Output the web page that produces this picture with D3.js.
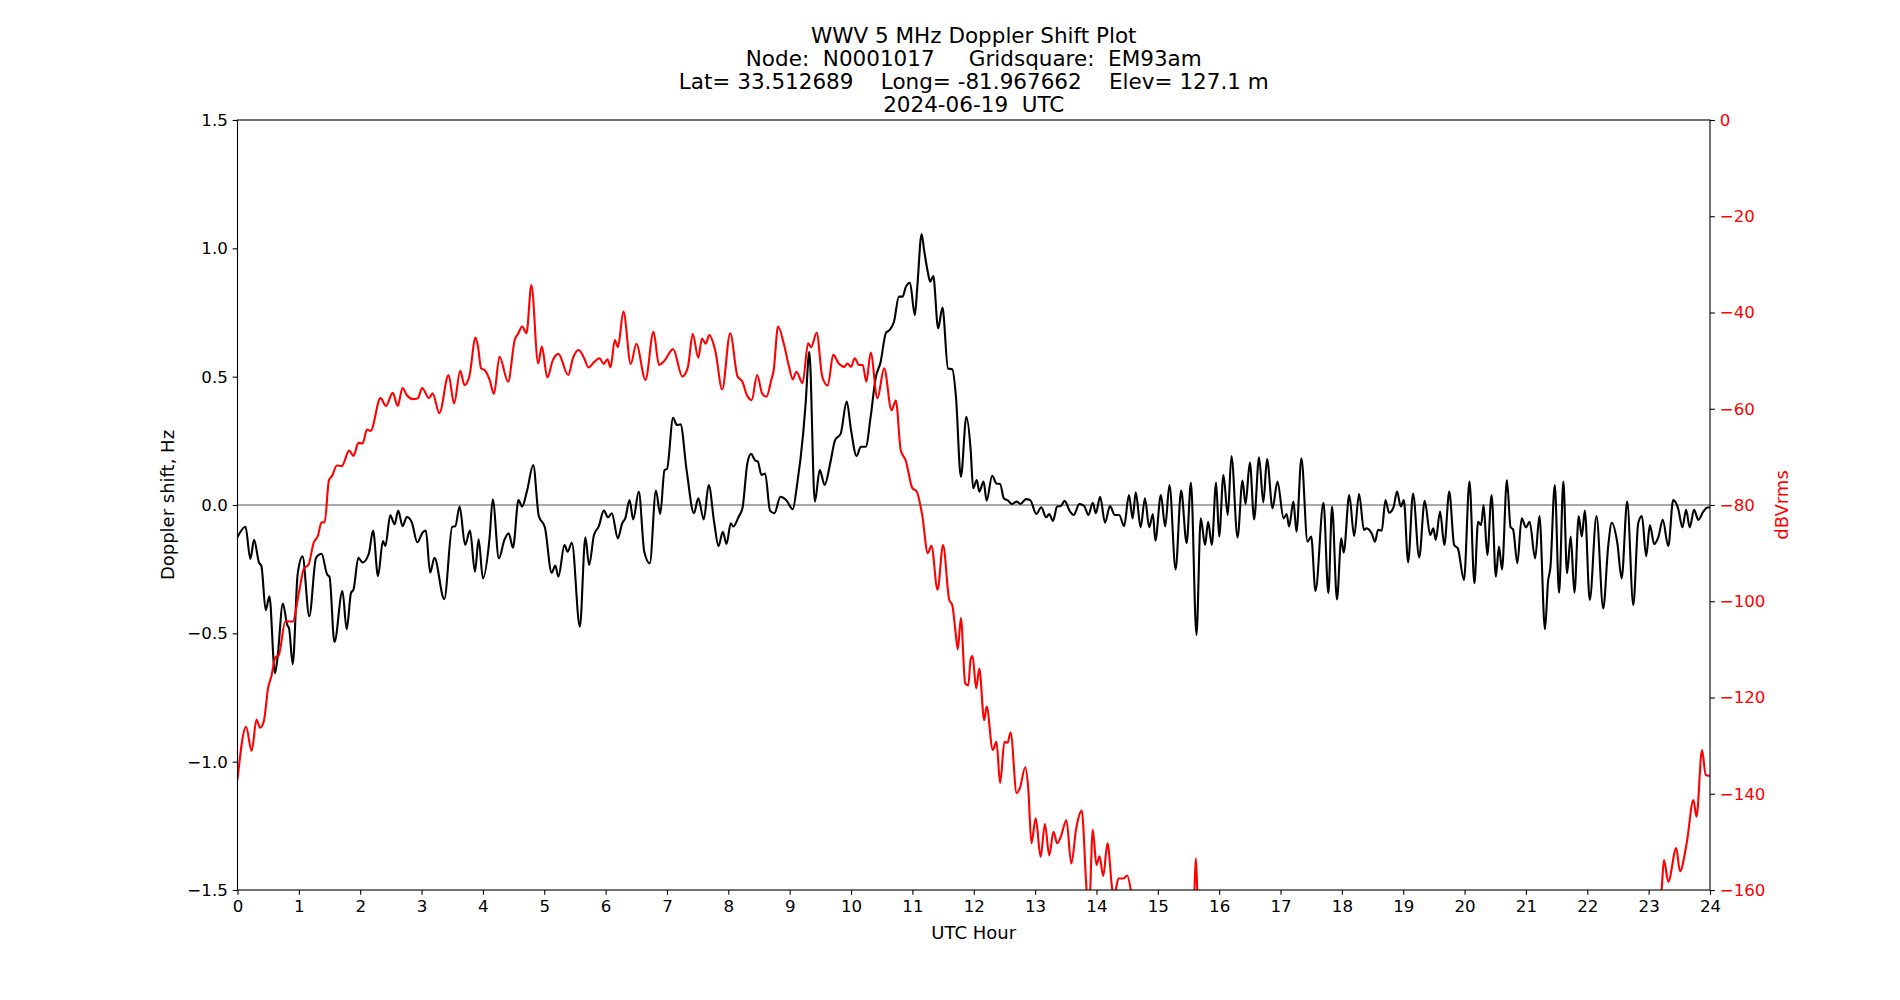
<!DOCTYPE html>
<html>
<head>
<meta charset="utf-8">
<script src="https://cdn.jsdelivr.net/npm/d3@7"></script>
<style>
  html, body { margin: 0; padding: 0; background: #fff; }
  svg { display: block; font-family: "DejaVu Sans", sans-serif; }
  text { white-space: pre; }
</style>
</head>
<body>
<svg id="chart" width="1900" height="1000"></svg>
<script>
// ---------- data ----------
const titleLines = [
  "WWV 5 MHz Doppler Shift Plot",
  "Node:  N0001017     Gridsquare:  EM93am",
  "Lat= 33.512689    Long= -81.967662    Elev= 127.1 m",
  "2024-06-19  UTC"
];
const xLabel = "UTC Hour";
const yLeftLabel = "Doppler shift, Hz";
const yRightLabel = "dBVrms";

const hourTicks = d3.range(0, 25, 1);
const dopplerTicks = [-1.5, -1.0, -0.5, 0.0, 0.5, 1.0, 1.5];
const dbTicks = [-160, -140, -120, -100, -80, -60, -40, -20, 0];

// Doppler shift (black) – hours and Hz
const dopplerHours = [
 0.00,0.13,0.21,0.27,0.35,0.39,0.46,0.52,0.61,0.65,0.74,0.81,0.84,0.90,0.98,1.06,1.17,1.28,1.37,1.46,1.50,1.58,1.71,1.78,1.85,1.89,1.97,2.04,2.14,2.21,2.29,2.37,2.41,2.49,2.56,2.62,2.69,2.76,2.84,2.93,3.02,3.07,3.14,3.21,3.37,3.50,3.55,3.62,3.71,3.79,3.87,3.93,
 4.00,4.11,4.16,4.26,4.35,4.42,4.49,4.58,4.64,4.72,4.82,4.91,5.01,5.12,5.18,5.23,5.33,5.38,5.45,5.58,5.67,5.73,5.81,5.89,5.97,6.04,6.10,6.20,6.27,6.32,6.39,6.45,6.54,6.63,6.72,6.82,6.89,6.96,7.00,7.10,7.16,7.22,7.32,7.44,7.51,7.60,7.68,7.77,7.84,7.91,7.97,
 8.04,8.08,8.17,8.23,8.31,8.37,8.44,8.48,8.54,8.60,8.68,8.75,8.85,8.95,9.05,9.12,9.22,9.26,9.32,9.41,9.49,9.57,9.66,9.74,9.83,9.93,10.00,10.09,10.16,10.24,10.32,10.40,10.48,10.57,10.63,10.70,10.78,10.84,10.89,10.96,11.04,11.08,11.15,11.19,11.25,11.29,11.34,11.42,11.49,11.58,11.65,11.71,11.79,11.88,11.95,
 11.99,12.05,12.09,12.16,12.21,12.30,12.37,12.43,12.49,12.56,12.62,12.70,12.76,12.85,12.92,13.02,13.10,13.18,13.23,13.29,13.36,13.42,13.48,13.57,13.63,13.72,13.80,13.87,13.94,13.99,14.06,14.14,14.22,14.30,14.37,14.45,14.53,14.59,14.64,14.72,14.79,14.86,14.92,14.96,15.05,15.12,15.19,15.29,15.38,15.47,15.54,15.63,15.70,15.77,15.82,15.88,15.95,
 16.00,16.07,16.14,16.20,16.30,16.38,16.43,16.50,16.57,16.65,16.72,16.78,16.87,16.95,17.05,17.10,17.14,17.21,17.26,17.34,17.44,17.50,17.57,17.70,17.78,17.84,17.92,17.99,18.03,18.12,18.20,18.28,18.36,18.40,18.49,18.54,18.59,18.65,18.71,18.77,18.84,18.90,18.96,19.01,19.08,19.16,19.26,19.35,19.44,19.49,19.53,19.60,19.67,19.75,19.83,19.89,19.99,
 20.08,20.16,20.22,20.27,20.31,20.37,20.44,20.51,20.56,20.61,20.69,20.75,20.79,20.86,20.93,21.00,21.06,21.15,21.22,21.31,21.36,21.40,21.47,21.54,21.61,21.67,21.73,21.79,21.86,21.91,21.96,22.04,22.15,22.26,22.34,22.40,22.49,22.56,22.65,22.75,22.83,22.89,22.96,23.02,23.09,23.16,23.23,23.32,23.40,23.48,23.55,23.61,23.67,23.74,23.81,23.89,23.96,24.00
];
const dopplerHz = [
 -0.125,-0.085,-0.21,-0.136,-0.224,-0.238,-0.41,-0.356,-0.655,-0.60,-0.384,-0.467,-0.48,-0.62,-0.27,-0.20,-0.433,-0.206,-0.19,-0.27,-0.28,-0.534,-0.335,-0.484,-0.342,-0.33,-0.206,-0.224,-0.19,-0.10,-0.277,-0.14,-0.16,-0.04,-0.075,-0.022,-0.082,-0.047,-0.067,-0.145,-0.106,-0.10,-0.263,-0.206,-0.367,-0.085,-0.083,-0.006,-0.155,-0.10,-0.26,-0.134,
 -0.286,-0.123,0.022,-0.208,-0.136,-0.11,-0.166,0.019,-0.006,0.056,0.156,-0.042,-0.087,-0.264,-0.236,-0.279,-0.156,-0.182,-0.147,-0.474,-0.126,-0.234,-0.117,-0.082,-0.022,-0.048,-0.032,-0.13,-0.071,-0.052,0.019,-0.056,0.052,-0.182,-0.227,0.056,-0.035,0.136,0.14,0.34,0.312,0.314,0.136,-0.032,0.026,-0.056,0.078,-0.069,-0.16,-0.104,-0.152,
 -0.071,-0.084,-0.045,-0.013,0.162,0.199,0.173,0.17,0.117,0.123,-0.022,-0.032,0.032,0.017,-0.017,0.078,0.279,0.396,0.597,0.013,0.136,0.078,0.162,0.253,0.277,0.403,0.292,0.191,0.227,0.227,0.344,0.494,0.555,0.671,0.682,0.714,0.812,0.812,0.848,0.866,0.74,0.85,1.056,0.994,0.909,0.87,0.892,0.688,0.769,0.532,0.529,0.422,0.11,0.344,0.214,
 0.065,0.097,0.052,0.091,0.017,0.114,0.084,0.082,0.026,0.017,0.004,0.013,0.004,0.023,0.019,-0.035,-0.009,-0.048,-0.035,-0.062,-0.006,-0.004,0.016,-0.026,-0.039,0.004,-0.004,-0.039,0.009,-0.032,0.032,-0.069,-0.004,-0.039,-0.039,-0.082,0.039,-0.052,0.049,-0.087,0.026,-0.087,-0.035,-0.139,0.039,-0.084,0.078,-0.251,0.056,-0.149,0.087,-0.506,-0.052,-0.156,-0.065,-0.156,0.087,
 -0.123,0.117,-0.039,0.191,-0.126,0.095,0.004,0.165,-0.056,0.186,0.01,0.179,-0.013,0.091,-0.052,-0.035,-0.084,0.013,-0.104,0.182,-0.143,-0.123,-0.335,0.009,-0.344,-0.006,-0.368,-0.13,-0.186,0.039,-0.121,0.043,-0.097,-0.091,-0.113,-0.143,-0.097,-0.10,0.019,-0.03,-0.01,0.052,-0.006,0.019,-0.223,0.045,-0.204,0.016,-0.117,-0.091,-0.136,-0.026,-0.156,0.052,-0.156,-0.169,-0.292,
 0.091,-0.305,-0.065,-0.078,0.0,-0.195,0.039,-0.279,-0.162,-0.251,0.097,-0.087,-0.095,-0.227,-0.052,-0.087,-0.065,-0.208,-0.043,-0.484,-0.299,-0.24,0.078,-0.342,0.091,-0.266,-0.123,-0.342,-0.043,-0.123,-0.022,-0.37,-0.043,-0.403,-0.162,-0.069,-0.149,-0.286,0.013,-0.39,-0.071,-0.043,-0.199,-0.078,-0.152,-0.123,-0.058,-0.16,0.019,-0.013,-0.087,-0.019,-0.087,-0.019,-0.058,-0.026,-0.01,-0.01
];

// Signal level (red) – hours and dBVrms (values below -160 fall outside the axes)
const signalHours = [
 0.00,0.14,0.23,0.31,0.37,0.43,0.50,0.55,0.62,0.67,0.78,0.90,1.00,1.08,1.16,1.24,1.31,1.37,1.42,1.49,1.54,1.62,1.70,1.82,1.89,1.97,2.04,2.11,2.17,2.33,2.42,2.53,2.61,2.69,2.76,2.86,2.94,3.01,3.12,3.18,3.29,3.44,3.53,3.63,3.70,3.78,3.88,3.92,3.97,
 4.03,4.11,4.18,4.27,4.41,4.52,4.57,4.64,4.71,4.79,4.90,4.96,5.05,5.14,5.23,5.39,5.47,5.56,5.65,5.72,5.82,5.90,5.97,6.03,6.08,6.15,6.20,6.29,6.41,6.50,6.65,6.78,6.87,6.96,7.10,7.25,7.34,7.42,7.51,7.57,7.63,7.69,7.79,7.90,
 8.03,8.15,8.23,8.30,8.38,8.47,8.55,8.62,8.70,8.74,8.81,8.91,8.99,9.05,9.11,9.21,9.30,9.35,9.44,9.53,9.62,9.71,9.80,9.89,9.94,10.00,10.06,10.13,10.19,10.25,10.32,10.43,10.54,10.66,10.73,10.81,10.89,11.00,11.07,11.16,11.25,11.31,11.41,11.50,11.60,11.65,11.70,11.74,11.79,11.86,11.91,11.95,
 11.98,12.04,12.09,12.17,12.21,12.31,12.37,12.43,12.50,12.55,12.60,12.70,12.75,12.84,12.89,12.94,13.01,13.09,13.16,13.23,13.30,13.36,13.42,13.51,13.59,13.67,13.76,13.84,13.88,13.94,14.00,14.05,14.11,14.18,14.26,14.29,14.36,14.44,14.50,14.56,14.62,
 15.00,15.50,15.59,15.62,15.65,15.75,17.00,20.00,23.10,23.21,23.25,23.32,23.45,23.51,23.62,23.73,23.78,23.87,23.93,24.00
];
const signalDb = [
 -137,-126.1,-131.1,-124.6,-126.3,-124.9,-117.9,-115.7,-111.6,-111.3,-104.2,-104.2,-98.3,-93.3,-92.3,-87.9,-86.4,-83.6,-83.6,-74.9,-74.0,-71.8,-71.9,-68.7,-69.8,-67.1,-67.2,-64.3,-64.6,-57.8,-59.4,-56.7,-59.4,-55.7,-57.2,-58.0,-57.8,-55.7,-57.8,-56.8,-60.9,-53.0,-58.9,-52.1,-55.1,-53.2,-45.2,-47.1,-51.6,
 -52.0,-54.0,-56.9,-49.2,-54.4,-45.6,-44.5,-42.9,-44.3,-34.3,-50.6,-47.1,-53.5,-49.9,-48.6,-53.0,-49.4,-47.8,-49.5,-51.4,-50.2,-49.5,-50.7,-49.7,-51.4,-45.7,-47.2,-39.8,-50.7,-46.5,-54.0,-44.0,-50.9,-50.0,-47.6,-53.3,-51.4,-44.5,-49.4,-45.4,-46.5,-44.7,-48.1,-56.0,
 -44.3,-53.3,-54.4,-57.1,-58.2,-53.0,-56.8,-57.5,-54.0,-51.9,-42.9,-46.8,-51.3,-53.9,-52.3,-54.7,-46.4,-47.2,-44.2,-53.3,-55.2,-48.8,-50.6,-51.3,-50.6,-51.3,-49.5,-50.9,-50.9,-54.4,-48.3,-57.8,-51.6,-60.3,-58.3,-68.6,-70.7,-76.5,-77.2,-82.1,-90.0,-88.5,-97.6,-88.3,-99.7,-100.8,-106,-110,-103.5,-117,-117.5,-112,
 -111.4,-118.1,-114.0,-124.7,-121.9,-130.9,-129.2,-137.8,-129.2,-129.4,-127.3,-139.9,-138.9,-134.5,-139.2,-150.3,-145.1,-153.1,-146.3,-152.8,-147.9,-150.3,-148.9,-145.5,-154.5,-147.2,-143.5,-160,-164,-147.5,-154.8,-153.0,-157.1,-150.3,-160,-161,-157.6,-157.6,-157,-160,-166,
 -170,-168,-162,-153.4,-162,-170,-172,-172,-166,-160,-153.8,-158.3,-151.3,-156.1,-150.3,-141.3,-144.8,-130.9,-136.1,-136.3
];

// ---------- layout ----------
const L = 237.5, R = 1710, T = 120, B = 890;
const tickLen = 4.86, tickPad = 4.86;
const fmtMinus = s => s.replace("-", "\u2212");

const svg = d3.select("#chart");
svg.append("rect").attr("width", 1900).attr("height", 1000).attr("fill", "#fff");

const x = d3.scaleLinear().domain([0, 24]).range([L, R]);
const yL = d3.scaleLinear().domain([-1.5, 1.5]).range([B, T]);
const yR = d3.scaleLinear().domain([-160, 0]).range([B, T]);

svg.append("clipPath").attr("id", "plotClip")
  .append("rect").attr("x", L).attr("y", T).attr("width", R - L).attr("height", B - T);

// zero line
svg.append("line")
  .attr("x1", x(0)).attr("x2", x(24))
  .attr("y1", yL(0)).attr("y2", yL(0))
  .attr("stroke", "#8c8c8c").attr("stroke-width", 1.4);

const plot = svg.append("g").attr("clip-path", "url(#plotClip)");

const dopplerData = dopplerHours.map((h, i) => [h, dopplerHz[i]]);
const signalData = signalHours.map((h, i) => [h, signalDb[i]]);

plot.append("path")
  .datum(dopplerData)
  .attr("fill", "none").attr("stroke", "#000").attr("stroke-width", 2.1)
  .attr("stroke-linejoin", "round")
  .attr("d", d3.line().x(d => x(d[0])).y(d => yL(d[1])).curve(d3.curveMonotoneX));

plot.append("path")
  .datum(signalData)
  .attr("fill", "none").attr("stroke", "#ff0000").attr("stroke-width", 2.1)
  .attr("stroke-linejoin", "round")
  .attr("d", d3.line().x(d => x(d[0])).y(d => yR(d[1])).curve(d3.curveMonotoneX));

// axes
const tickFont = 16.67;
const gx = svg.append("g").attr("transform", `translate(0,${B})`)
  .call(d3.axisBottom(x).tickValues(hourTicks).tickFormat(d3.format("d"))
    .tickSize(tickLen).tickPadding(tickPad).tickSizeOuter(0));
const gyl = svg.append("g").attr("transform", `translate(${L},0)`)
  .call(d3.axisLeft(yL).tickValues(dopplerTicks).tickFormat(d => fmtMinus(d3.format(".1f")(d)))
    .tickSize(tickLen).tickPadding(tickPad).tickSizeOuter(0));
const gyr = svg.append("g").attr("transform", `translate(${R},0)`)
  .call(d3.axisRight(yR).tickValues(dbTicks).tickFormat(d => fmtMinus(d3.format("d")(d)))
    .tickSize(tickLen).tickPadding(tickPad).tickSizeOuter(0));

[gx, gyl, gyr].forEach(g => {
  g.select(".domain").remove();
  g.attr("font-family", "DejaVu Sans").attr("font-size", tickFont);
  g.selectAll(".tick line").attr("stroke", "#000").attr("stroke-width", 1.1);
  g.selectAll(".tick text").attr("fill", "#000");
});
gyr.selectAll(".tick text").attr("fill", "#ff0000");

// frame
svg.append("rect")
  .attr("x", L).attr("y", T).attr("width", R - L).attr("height", B - T)
  .attr("fill", "none").attr("stroke", "#000").attr("stroke-width", 1.1);

// title
const title = svg.append("g").attr("font-size", 21.5).attr("text-anchor", "middle").attr("fill", "#000");
titleLines.forEach((t, i) => {
  title.append("text").attr("x", (L + R) / 2).attr("y", 42.7 + i * 23.0).text(t);
});

// axis labels
svg.append("text").attr("x", (L + R) / 2).attr("y", 938.5)
  .attr("text-anchor", "middle").attr("font-size", 18).text(xLabel);
svg.append("text").attr("transform", `translate(173.5,${(T + B) / 2}) rotate(-90)`)
  .attr("text-anchor", "middle").attr("font-size", 18).text(yLeftLabel);
svg.append("text").attr("transform", `translate(1788,${(T + B) / 2}) rotate(-90)`)
  .attr("text-anchor", "middle").attr("font-size", 18).attr("fill", "#ff0000").text(yRightLabel);
</script>
</body>
</html>
